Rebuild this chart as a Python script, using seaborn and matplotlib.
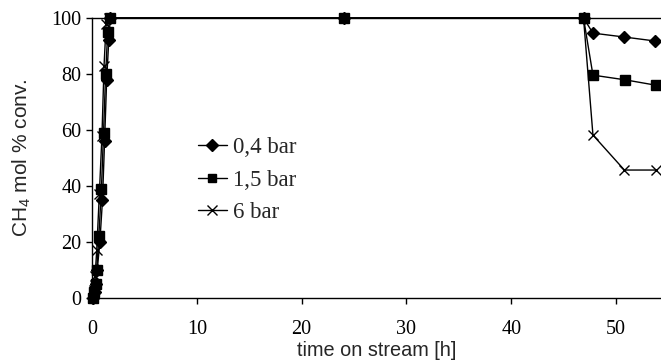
import numpy as np
import pandas as pd
import matplotlib
matplotlib.use("Agg")
import matplotlib.pyplot as plt
import seaborn as sns
from matplotlib.lines import Line2D

# data
series = ["0,4 bar", "1,5 bar", "6 bar"]
t_04 = [0.1, 0.25, 0.4, 0.5, 0.75, 1.0, 1.2, 1.4, 1.6, 1.75, 24, 46.9, 47.8, 50.8, 53.7]
y_04 = [0, 2, 5, 10, 20, 35, 56, 78, 92, 100, 100, 100, 94.6, 93.2, 91.8]
t_15 = [0.1, 0.2, 0.35, 0.45, 0.65, 0.9, 1.1, 1.3, 1.5, 1.7, 24, 46.9, 47.8, 50.9, 53.8]
y_15 = [0, 2, 5, 10, 22, 39, 59, 80, 95, 100, 100, 100, 79.6, 77.9, 76]
t_6 = [0.1, 0.2, 0.3, 0.45, 0.7, 0.95, 1.15, 1.35, 1.6, 24, 46.9, 47.8, 50.8, 53.8]
y_6 = [0, 3, 8, 17, 37, 58, 83, 98, 100, 100, 100, 58.2, 45.7, 45.7]

xticks = [0, 10, 20, 30, 40, 50]
yticks = [0, 20, 40, 60, 80, 100]

sns.set_style("ticks")
plt.rcParams["font.family"] = ["Liberation Serif", "DejaVu Serif"]
plt.rcParams["mathtext.fontset"] = "custom"
plt.rcParams["mathtext.rm"] = "Liberation Sans"
plt.rcParams["mathtext.it"] = "Liberation Sans:italic"

fig = plt.figure(figsize=(6.61, 3.61), dpi=100)
ax = fig.add_axes([92/661, 1-298/361, (661-92)/661, 280/361])

markers = ["D", "s", "x"]
msizes = [6.5, 7.5, 7]
for t, y, m, ms in zip([t_04, t_15, t_6], [y_04, y_15, y_6], markers, msizes):
    sns.lineplot(x=t, y=y, sort=False, color="black", marker=m, markersize=ms,
                 markeredgecolor="black", markeredgewidth=1.0, linewidth=1.0,
                 ax=ax, clip_on=False, zorder=3)

ax.set_xlim(0, (661-92)/10.48)
ax.set_ylim(0, 100)
ax.set_xticks(xticks)
ax.set_yticks(yticks)
ax.tick_params(labelsize=14.5, length=4.5, width=1, direction="out", colors="black")
ax.tick_params(axis="x", pad=11)
ax.tick_params(axis="y", pad=3)
for sp in ["left", "bottom", "top"]:
    ax.spines[sp].set_color("black")
    ax.spines[sp].set_linewidth(1.0)
ax.spines["right"].set_visible(False)

ax.set_xlabel("time on stream [h]", family="Liberation Sans", fontsize=14.3, labelpad=2)
ax.set_ylabel("CH$_4$ mol % conv.", family="Liberation Sans", fontsize=15, labelpad=13)

handles = [Line2D([], [], color="black", lw=1, marker=m, markersize=ms)
           for m, ms in zip(markers, [6, 6, 6.5])]
ax.legend(handles, series, loc="center left", bbox_to_anchor=(0.186, 0.421),
          frameon=False, fontsize=16.5, handlelength=1.26, handletextpad=0.28,
          labelspacing=0.5, borderpad=0, borderaxespad=0)

fig.savefig("out.png", dpi=100)
